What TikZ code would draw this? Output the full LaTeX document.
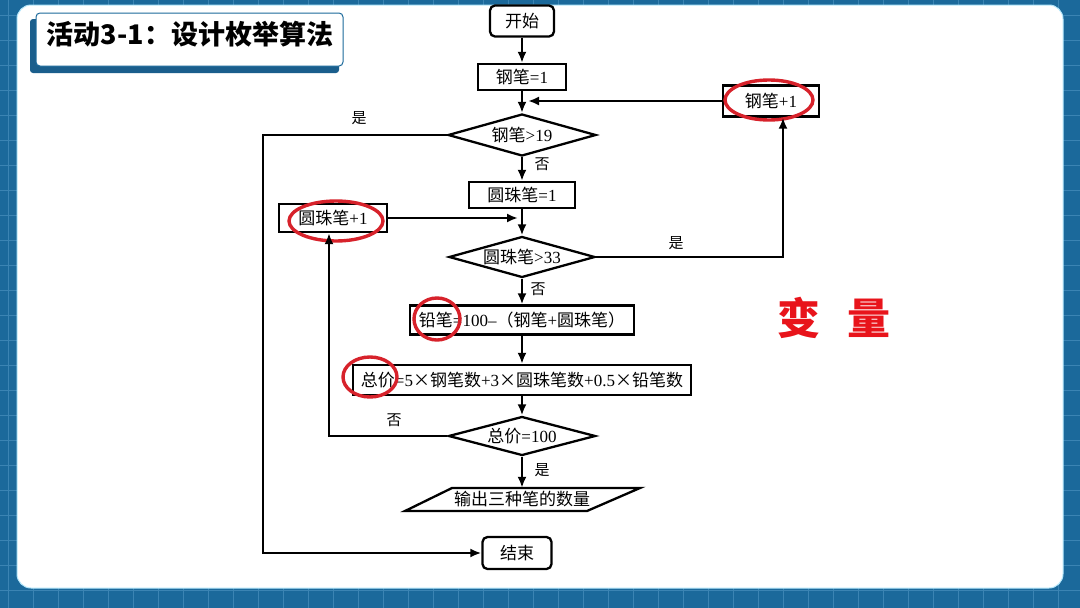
\documentclass[tikz,border=0pt]{standalone}
\usepackage{fontspec}
\setmainfont{Liberation Serif}
\newfontfamily\cjk{Noto Sans CJK SC}
\usetikzlibrary{shapes.geometric,arrows.meta,calc}
\definecolor{bgblue}{HTML}{1B699B}
\definecolor{gridblue}{HTML}{3B84B3}
\definecolor{shadowblue}{HTML}{1A5E8C}
\definecolor{ringred}{HTML}{D7222B}
\definecolor{bigred}{HTML}{E8141B}
\newcommand\zh[1]{{\cjk #1}}
\begin{document}
\begin{tikzpicture}[x=1pt,y=-1pt,
  arr/.style={line width=2.3pt,-{Latex[length=11pt,width=9pt]}},
  procbox/.style={draw,line width=2.3pt,inner sep=0pt,font=\fontsize{17}{19}\selectfont},
  termbox/.style={procbox,rounded corners=5pt},
  decbox/.style={draw,diamond,aspect=3.5,line width=2.3pt,inner sep=0pt,font=\fontsize{17}{19}\selectfont},
  lbl/.style={font=\fontsize{15}{17}\selectfont\cjk,inner sep=0pt},
  ring/.style={draw=ringred,line width=3.4pt,ellipse,inner sep=0pt}
]
\useasboundingbox (0,0) rectangle (1080,608);
% background
\fill[bgblue] (0,0) rectangle (1080,608);
\foreach \x in {8,33,...,1080} \draw[gridblue,line width=0.8pt] (\x,0) -- (\x,608);
\foreach \y in {15,40,...,608} \draw[gridblue,line width=0.8pt] (0,\y) -- (1080,\y);
\filldraw[fill=white,draw=white!70!cyan,line width=1pt,rounded corners=14pt] (17,5) rectangle (1063,588);
% title
\fill[shadowblue,rounded corners=3pt] (30,19) rectangle (339,73);
\filldraw[fill=white,draw=bgblue,line width=1pt,rounded corners=4pt] (36,13) rectangle (343,66);
\node[inner sep=0pt,font=\fontsize{27}{30}\selectfont\cjk\bfseries] (title) at (190,34) {活动3-1：设计枚举算法};
% big red label
\node[inner sep=0pt,text=bigred,font=\fontsize{43}{46}\selectfont\cjk\bfseries] (var) at (834,318) {变\hspace{28pt}量};
% flowchart nodes
\node[termbox,minimum width=64pt,minimum height=31pt] (start) at (522,21) {\zh{开始}};
\node[procbox,minimum width=88pt,minimum height=26pt] (p1) at (522,77) {\zh{钢笔}=1};
\node[decbox,minimum width=148pt,minimum height=42pt] (d1) at (522,135) {\zh{钢笔}>19};
\node[procbox,minimum width=96pt,minimum height=31pt] (pinc) at (771,101) {\zh{钢笔}+1};
\node[procbox,minimum width=106pt,minimum height=26pt] (b1) at (522,195) {\zh{圆珠笔}=1};
\node[procbox,minimum width=108pt,minimum height=28pt] (binc) at (333,218) {\zh{圆珠笔}+1};
\node[decbox,minimum width=146pt,minimum height=41pt] (d2) at (522,257) {\zh{圆珠笔}>33};
\node[procbox,minimum width=224pt,minimum height=29pt] (q) at (522,320) {\zh{铅笔}=100–\zh{（钢笔}+\zh{圆珠笔）}\hspace{10pt}};
\node[procbox,minimum width=338pt,minimum height=30pt] (tot) at (522,380) {\zh{总价}=5\zh{×钢笔数}+3\zh{×圆珠笔数}+0.5\zh{×铅笔数}\hspace{13pt}};
\node[decbox,minimum width=147pt,minimum height=39pt] (d3) at (522,436) {\zh{总价}=100};
\node[inner sep=0pt,minimum width=180pt,minimum height=23pt,font=\fontsize{17}{19}\selectfont] (outp) at (522,499.5) {\zh{输出三种笔的数量}};
\draw[line width=2.3pt] ($(outp.center)+(-117,11.5)$) -- ($(outp.center)+(-70,-11.5)$) -- ($(outp.center)+(118,-11.5)$) -- ($(outp.center)+(65,11.5)$) -- cycle;
\node[termbox,minimum width=69pt,minimum height=32pt] (endn) at (517,553) {\zh{结束}};
% red rings
\node[ring,minimum width=88pt,minimum height=40pt] (r1) at (769,100) {};
\node[ring,minimum width=94pt,minimum height=40pt] (r2) at (336,221) {};
\node[ring,minimum width=46pt,minimum height=42pt] (r3) at (437,319) {};
\node[ring,minimum width=54pt,minimum height=40pt] (r4) at (370,377) {};
% helper coordinates
\coordinate (lx) at (263,0);
\coordinate (rx) at (783,0);
\coordinate (bx) at (329,0);
% connectors
\draw[arr] (start) -- (p1);
\draw[arr] (p1) -- (d1);
\draw[arr] (pinc.west) -- ($(pinc.west -| p1.south)+(6,0)$);
\draw[arr] (d1) -- (b1);
\draw[arr] (b1) -- (d2);
\draw[arr] (binc.east) -- ($(binc.east -| b1.south)+(-4,0)$);
\draw[arr] (d2) -- (q);
\draw[arr] (q) -- (tot);
\draw[arr] (tot) -- (d3);
\draw[arr] (d3) -- (outp);
\draw[arr] (d1.west) -- (d1.west -| lx) |- (endn.west);
\draw[arr] (d2.east) -- (d2.east -| rx) -- (pinc.south -| rx);
\draw[arr] (d3.west) -- (d3.west -| bx) -- (binc.south -| bx);
% labels
\node[lbl] (l1) at (359,118) {是};
\node[lbl] (l2) at (542,164) {否};
\node[lbl] (l3) at (676,243) {是};
\node[lbl] (l4) at (538,289) {否};
\node[lbl] (l5) at (394,420) {否};
\node[lbl] (l6) at (542,470) {是};
\end{tikzpicture}
\end{document}
